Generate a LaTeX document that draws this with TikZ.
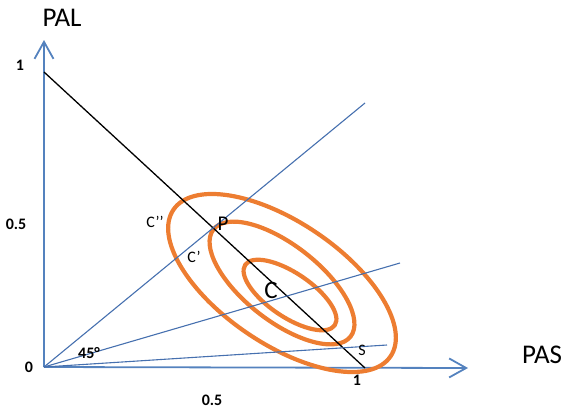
\documentclass[tikz,border=0pt]{standalone}
\usepackage{fontspec}
\setmainfont{Carlito}
\usetikzlibrary{arrows.meta}
\definecolor{axisblue}{RGB}{84,130,190}
\definecolor{rayblue}{RGB}{70,112,175}
\definecolor{ringorange}{RGB}{237,125,49}
\tikzset{
	axis/.style={draw=axisblue,line width=1.8pt,-{Straight Barb[length=17pt,width=19pt,line width=1.8pt]}},
	ray/.style={draw=rayblue,line width=1.1pt},
	ring/.style={draw=ringorange,line width=4.2pt},
	lab/.style={inner sep=0pt,font=\fontsize{16}{18}\selectfont},
	num/.style={lab,font=\fontsize{16}{18}\selectfont\bfseries},
}
\begin{document}
\begin{tikzpicture}[x=1pt,y=-1pt]
		\useasboundingbox (0,0) rectangle (565,413);
		\coordinate (O) at (44,367);
		\coordinate (ytip) at (44,40);
		\coordinate (xtip) at (468,368);
		\coordinate (L1) at (44,72);
		\coordinate (S1) at (365,368);
		\coordinate (r45) at (365,103);
		\coordinate (rmid) at (400,263);
		\coordinate (rlow) at (387,345);
		
		% ejes
		\draw[axis] (O) -- (ytip);
		\draw[axis] (O) -- (xtip);
		
		% curvas
		\draw[ring] (282,283) ellipse [x radius=131, y radius=61, rotate=-34];
		\draw[ring] (282,283) ellipse [x radius=87, y radius=38, rotate=-38];
		\draw[ring] (290,295) ellipse [x radius=54, y radius=22, rotate=-34];
		
		% recta y rayos
		\draw[line width=1.3pt] (L1) -- (S1);
		\draw[ray] (O) -- (r45);
		\draw[ray] (O) -- (rmid);
		\draw[ray] (O) -- (rlow);
		
		\node[lab,font=\fontsize{27}{30}\selectfont] (pal) at (62,18) {PAL};
		\node[lab,font=\fontsize{27}{30}\selectfont] (pas) at (542,355) {PAS};
		\node[num] (one-y) at (20,65) {1};
		\node[num] (half-y) at (16,224) {0.5};
		\node[num] (zero) at (29,367) {0};
		\node[num] (half-x) at (212,400) {0.5};
		\node[num] (one-x) at (357,380) {1};
		\node[num] (ang) at (89,353) {45°};
		\node[lab,font=\fontsize{21}{24}\selectfont] (P) at (223,224) {P};
		\node[lab,font=\fontsize{25}{28}\selectfont] (C) at (271,290) {C};
		\node[lab] (Cb) at (155,222) {C’’};
		\node[lab] (Ca) at (194,257) {C’};
		\node[lab] (S) at (362,350) {S};
	\end{tikzpicture}
\end{document}
